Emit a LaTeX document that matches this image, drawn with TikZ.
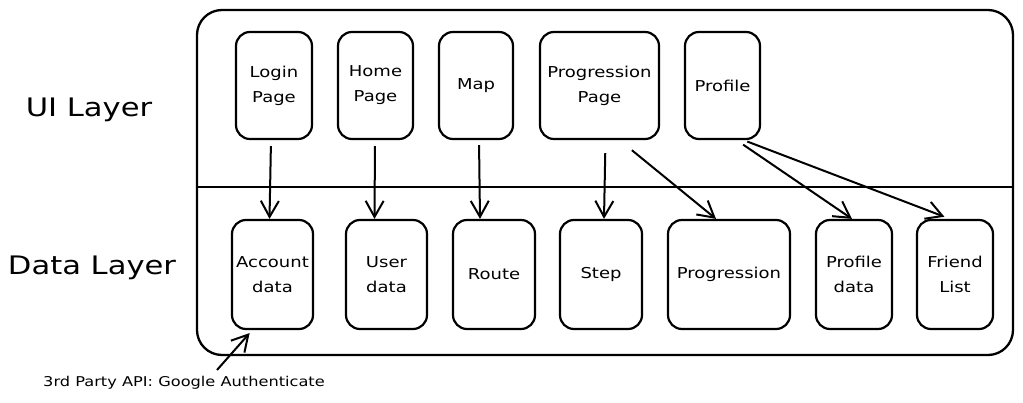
\documentclass[tikz,border=0pt]{standalone}
\usepackage{fontspec}
\setmainfont[FakeStretch=1.2]{DejaVu Sans}
\usetikzlibrary{arrows.meta}
\begin{document}
\begin{tikzpicture}[x=1pt,y=-1pt,
  box/.style={draw, line width=2.2pt, rounded corners=14pt, align=center,
    font=\fontsize{15}{25}\selectfont, inner sep=0pt},
  uibox/.style={box, minimum height=107pt},
  databox/.style={box, minimum height=109pt},
  conn/.style={line width=2pt, -{Straight Barb[length=16pt,width=18pt,line width=2pt]}},
  layer/.style={font=\fontsize{25.5}{30}\selectfont},
  container/.style={draw, line width=2.3pt, rounded corners=25pt, minimum width=816pt, minimum height=345pt, inner sep=0pt},
]
\useasboundingbox (0,0) rectangle (1023,403);

% container and divider
\node[container] (outer) at (605,182.5) {};
\coordinate (divy) at (0,187);
\draw[line width=2pt] (outer.west |- divy) -- (outer.east |- divy);

% layer labels
\node[layer] (uil) at (89,110) {UI Layer};
\node[layer] (datal) at (92,268) {Data Layer};

% UI layer boxes
\node[uibox, minimum width=76pt] (login) at (274,85.5) {Login\\Page};
\node[uibox, minimum width=75pt] (home) at (375.5,85.5) {Home\\Page};
\node[uibox, minimum width=74pt] (map) at (476,85.5) {Map};
\node[uibox, minimum width=119pt] (pp) at (599.5,85.5) {Progression\\Page};
\node[uibox, minimum width=75pt] (prof) at (722.5,85.5) {Profile};

% Data layer boxes
\node[databox, minimum width=81pt] (acc) at (272.5,274.5) {Account\\data};
\node[databox, minimum width=81pt] (user) at (386.5,274.5) {User\\data};
\node[databox, minimum width=82pt] (route) at (494,274.5) {Route};
\node[databox, minimum width=82pt] (step) at (601,274.5) {Step};
\node[databox, minimum width=122pt] (prog) at (729,274.5) {Progression};
\node[databox, minimum width=76pt] (pdata) at (854,274.5) {Profile\\data};
\node[databox, minimum width=76pt] (friend) at (955,274.5) {Friend\\List};

% connectors
\draw[conn, shorten <=6pt] ([xshift=-3pt]login.south) -- ([xshift=-3pt]acc.north);
\draw[conn, shorten <=6pt] ([xshift=-0.5pt]home.south) -- ([xshift=-12pt]user.north);
\draw[conn, shorten <=5pt] ([xshift=3pt]map.south) -- ([xshift=-14pt]route.north);
\draw[conn, shorten <=13pt] ([xshift=6pt]pp.south) -- ([xshift=3pt]step.north);
\draw[conn, shorten <=16pt] ([xshift=20pt]pp.south) -- ([xshift=-13pt]prog.north);
\draw[conn, shorten <=8pt] ([xshift=14pt]prof.south) -- ([xshift=-2pt]pdata.north);
\draw[conn, shorten <=4pt, shorten >=6pt] ([xshift=21pt]prof.south) -- ([xshift=-5pt]friend.north);

% third party API
\node[font=\fontsize{13.5}{16}\selectfont] (api) at (184,383) {3rd Party API: Google Authenticate};
\coordinate (apitail) at (217,370);
\draw[conn, shorten >=4pt] (apitail) -- (acc.-110);
\end{tikzpicture}
\end{document}
